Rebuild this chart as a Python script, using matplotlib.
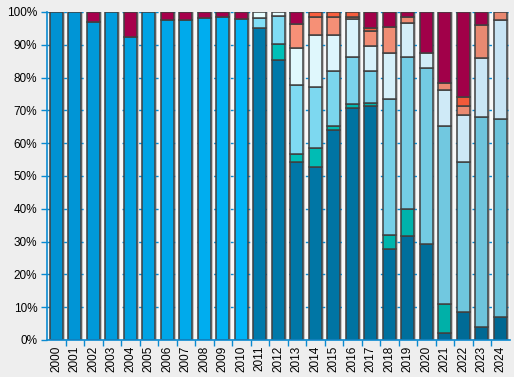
import numpy as np
import matplotlib
matplotlib.use("Agg")
import matplotlib.pyplot as plt
from matplotlib.colors import to_rgb

# Дані (частки, %)
years = [str(y) for y in range(2000, 2025)]
pad_new = [0] * 14
pad_old = [0] * 11

bright = [100, 100, 97.0, 100, 92.5, 100, 97.5, 97.7, 98.3, 98.6, 98.0] + pad_new
maroon_old = [0, 0, 3.0, 0, 7.5, 0, 2.5, 2.3, 1.7, 1.4, 2.0] + pad_new
dark = pad_old + [95.2, 85.3, 54.2, 52.6, 64.0, 70.6, 71.3, 27.7, 31.6, 29.3, 2.0, 8.5, 3.9, 6.9]
teal = pad_old + [0, 4.9, 2.4, 5.8, 1.2, 1.4, 1.1, 4.2, 8.2, 0, 8.9, 0, 0, 0]
mid = pad_old + [3.1, 8.6, 21.1, 18.6, 16.7, 14.4, 9.6, 41.5, 46.6, 53.5, 54.2, 45.7, 64.0, 60.4]
light = pad_old + [1.7, 1.2, 11.2, 16.0, 11.0, 11.4, 7.5, 14.0, 10.1, 4.8, 11.0, 14.3, 18.0, 30.2]
salmon = pad_old + [0, 0, 7.3, 5.4, 5.5, 0.8, 4.7, 8.1, 1.9, 0, 2.2, 2.7, 10.0, 2.5]
orange = pad_old + [0, 0, 0, 1.6, 1.6, 1.4, 0.8, 0, 0, 0, 0, 3.0, 0, 0]
maroon_new = pad_old + [0, 0, 3.8, 0, 0, 0, 5.0, 4.5, 1.6, 12.4, 21.7, 25.8, 4.1, 0]
maroon = [a + b for a, b in zip(maroon_old, maroon_new)]

# серії знизу вгору: значення, колір на початку, колір в кінці, роки відтінку
series = [
    (bright, "#0092d2", "#00b4f6", (0, 10)),
    (dark, "#007aab", "#006892", (11, 24)),
    (teal, "#00c2ba", "#00aaa2", (11, 24)),
    (mid, "#82def6", "#6cc2da", (11, 24)),
    (light, "#e6fdff", "#c8e4f4", (11, 24)),
    (salmon, "#fa9278", "#e88870", (11, 24)),
    (orange, "#fa6040", "#f05838", (11, 24)),
    (maroon, "#a8004c", "#a00048", (0, 24)),
]

def shade(c0, c1, i, lo, hi):
    a, b = np.array(to_rgb(c0)), np.array(to_rgb(c1))
    t = min(max((i - lo) / (hi - lo), 0), 1)
    return tuple(a + (b - a) * t)

fig = plt.figure(figsize=(5.14, 3.77), dpi=100, facecolor="#eeeeee")
ax = fig.add_axes([47 / 514, 37 / 377, 462.5 / 514, 328 / 377])
ax.set_facecolor("#f8f8f8")

x = np.arange(len(years))
w = 0.70
blue = "#0a8ad0"

# тінь праворуч від стовпчиків
ax.bar(x + 0.12, [100] * len(x), w, color="#c4c4c4", zorder=1)

bottom = np.zeros(len(x))
for vals, c0, c1, (lo, hi) in series:
    vals = np.array(vals, dtype=float)
    m = vals > 0
    cols = [shade(c0, c1, i, lo, hi) for i in x[m]]
    ax.bar(x[m], vals[m], w, bottom=bottom[m], color=cols,
           edgecolor="#404040", linewidth=1.1, zorder=3)
    bottom += vals

ax.set_xlim(-0.5, len(x) - 0.5)
ax.set_ylim(0, 100)
ax.set_yticks(range(0, 101, 10))
ax.set_yticklabels([f"{v}%" for v in range(0, 101, 10)])
ax.set_xticks(x)
ax.set_xticklabels(years, rotation=90)
ax.set_xticks(x[:-1] + 0.5, minor=True)
ax.tick_params(axis="x", which="major", length=0, pad=4, labelsize=8.5)
ax.tick_params(axis="x", which="minor", length=4, color=blue, width=1)
ax.tick_params(axis="y", length=4, color=blue, width=1, labelsize=8.5, pad=3)
for lab in ax.get_xticklabels() + ax.get_yticklabels():
    lab.set_fontfamily("Liberation Sans")

ax.grid(axis="y", color=blue, linestyle=(0, (2, 4)), linewidth=1, zorder=2)
ax.set_axisbelow(False)
for s in ["top", "right"]:
    ax.spines[s].set_visible(False)
for s in ["left", "bottom"]:
    ax.spines[s].set_color(blue)
    ax.spines[s].set_linewidth(1.2)
    ax.spines[s].set_zorder(4)

fig.savefig("out.png", dpi=100, facecolor=fig.get_facecolor())
